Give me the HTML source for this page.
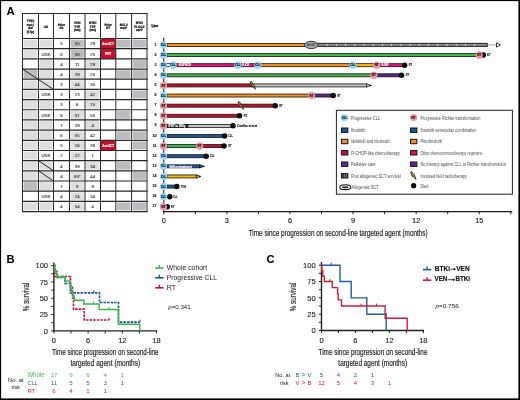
<!DOCTYPE html>
<html><head><meta charset="utf-8"><style>
html,body{margin:0;padding:0;background:#fff;}
svg{display:block;will-change:transform;}
text{font-family:"Liberation Sans", sans-serif;}
.gp{text-rendering:geometricPrecision;}
</style></head><body>
<svg width="520" height="400" viewBox="0 0 520 400" font-family='"Liberation Sans", sans-serif'>
<rect width="520" height="400" fill="#fff"/>
<rect x="0" y="0" width="520" height="1.1" fill="#000"/>
<rect x="0" y="0" width="1.1" height="400" fill="#000"/>
<rect x="518.4" y="0" width="1.6" height="400" fill="#000"/>
<rect x="0" y="398.4" width="520" height="1.6" fill="#000"/>
<text x="6.50" y="15.10" font-size="11.4" fill="#000" font-weight="bold">A</text>
<text x="6.60" y="262.60" font-size="11.2" fill="#000" font-weight="bold">B</text>
<text x="266.50" y="262.60" font-size="11.2" fill="#000" font-weight="bold">C</text>
<rect x="23.70" y="39.70" width="13.60" height="7.78" fill="#dedede"/>
<rect x="39.70" y="39.70" width="12.60" height="7.78" fill="#dedede"/>
<text x="61.50" y="45.34" font-size="4.3" fill="#333" text-anchor="middle" stroke="#333" stroke-width="0.1">5</text>
<rect x="70.70" y="39.70" width="13.10" height="7.78" fill="#bcbcc0"/>
<text x="77.25" y="45.34" font-size="4.3" fill="#333" text-anchor="middle" stroke="#333" stroke-width="0.1">55</text>
<text x="92.75" y="45.34" font-size="4.3" fill="#333" text-anchor="middle" stroke="#333" stroke-width="0.1">29</text>
<rect x="100.50" y="38.50" width="15.30" height="10.18" fill="#c8102e"/>
<text x="108.15" y="44.89" font-size="3.5" fill="#fff" text-anchor="middle" font-weight="bold" textLength="11.6" lengthAdjust="spacingAndGlyphs" stroke="#fff" stroke-width="0.15">AutoSCT</text>
<rect x="117.00" y="39.70" width="13.40" height="7.78" fill="#bcbcc0"/>
<rect x="132.80" y="39.70" width="13.00" height="7.78" fill="#bcbcc0"/>
<rect x="23.70" y="49.88" width="13.60" height="7.78" fill="#dedede"/>
<text x="46.00" y="55.52" font-size="4.3" fill="#333" text-anchor="middle" stroke="#333" stroke-width="0.1">UNK</text>
<text x="61.50" y="55.52" font-size="4.3" fill="#333" text-anchor="middle" stroke="#333" stroke-width="0.1">8</text>
<rect x="70.70" y="49.88" width="13.10" height="7.78" fill="#bcbcc0"/>
<text x="77.25" y="55.52" font-size="4.3" fill="#333" text-anchor="middle" stroke="#333" stroke-width="0.1">58</text>
<text x="92.75" y="55.52" font-size="4.3" fill="#333" text-anchor="middle" stroke="#333" stroke-width="0.1">25</text>
<rect x="100.50" y="48.68" width="15.30" height="10.18" fill="#c8102e"/>
<text x="108.15" y="55.07" font-size="3.5" fill="#fff" text-anchor="middle" font-weight="bold" textLength="6.3" lengthAdjust="spacingAndGlyphs" stroke="#fff" stroke-width="0.15">IFRT</text>
<rect x="39.70" y="60.06" width="12.60" height="7.78" fill="#dedede"/>
<text x="61.50" y="65.70" font-size="4.3" fill="#333" text-anchor="middle" stroke="#333" stroke-width="0.1">4</text>
<text x="77.25" y="65.70" font-size="4.3" fill="#333" text-anchor="middle" stroke="#333" stroke-width="0.1">11</text>
<rect x="86.20" y="60.06" width="13.10" height="7.78" fill="#dedede"/>
<text x="92.75" y="65.70" font-size="4.3" fill="#333" text-anchor="middle" stroke="#333" stroke-width="0.1">29</text>
<rect x="132.80" y="60.06" width="13.00" height="7.78" fill="#bcbcc0"/>
<rect x="23.70" y="70.24" width="13.60" height="7.78" fill="#bcbcc0"/>
<rect x="39.70" y="70.24" width="12.60" height="7.78" fill="#dedede"/>
<text x="61.50" y="75.88" font-size="4.3" fill="#333" text-anchor="middle" stroke="#333" stroke-width="0.1">4</text>
<rect x="70.70" y="70.24" width="13.10" height="7.78" fill="#dedede"/>
<text x="77.25" y="75.88" font-size="4.3" fill="#333" text-anchor="middle" stroke="#333" stroke-width="0.1">29</text>
<text x="92.75" y="75.88" font-size="4.3" fill="#333" text-anchor="middle" stroke="#333" stroke-width="0.1">25</text>
<rect x="117.00" y="70.24" width="13.40" height="7.78" fill="#bcbcc0"/>
<rect x="132.80" y="70.24" width="13.00" height="7.78" fill="#bcbcc0"/>
<rect x="23.70" y="80.42" width="13.60" height="7.78" fill="#dedede"/>
<rect x="39.70" y="80.42" width="12.60" height="7.78" fill="#dedede"/>
<text x="61.50" y="86.06" font-size="4.3" fill="#333" text-anchor="middle" stroke="#333" stroke-width="0.1">3</text>
<rect x="70.70" y="80.42" width="13.10" height="7.78" fill="#dedede"/>
<text x="77.25" y="86.06" font-size="4.3" fill="#333" text-anchor="middle" stroke="#333" stroke-width="0.1">44</text>
<text x="92.75" y="86.06" font-size="4.3" fill="#333" text-anchor="middle" stroke="#333" stroke-width="0.1">35</text>
<rect x="23.70" y="90.60" width="13.60" height="7.78" fill="#dedede"/>
<text x="46.00" y="96.24" font-size="4.3" fill="#333" text-anchor="middle" stroke="#333" stroke-width="0.1">UNK</text>
<text x="61.50" y="96.24" font-size="4.3" fill="#333" text-anchor="middle" stroke="#333" stroke-width="0.1">3</text>
<text x="77.25" y="96.24" font-size="4.3" fill="#333" text-anchor="middle" stroke="#333" stroke-width="0.1">23</text>
<rect x="86.20" y="90.60" width="13.10" height="7.78" fill="#dedede"/>
<text x="92.75" y="96.24" font-size="4.3" fill="#333" text-anchor="middle" stroke="#333" stroke-width="0.1">42</text>
<rect x="132.80" y="90.60" width="13.00" height="7.78" fill="#bcbcc0"/>
<rect x="23.70" y="100.78" width="13.60" height="7.78" fill="#dedede"/>
<rect x="39.70" y="100.78" width="12.60" height="7.78" fill="#dedede"/>
<text x="61.50" y="106.42" font-size="4.3" fill="#333" text-anchor="middle" stroke="#333" stroke-width="0.1">3</text>
<text x="77.25" y="106.42" font-size="4.3" fill="#333" text-anchor="middle" stroke="#333" stroke-width="0.1">6</text>
<rect x="86.20" y="100.78" width="13.10" height="7.78" fill="#dedede"/>
<text x="92.75" y="106.42" font-size="4.3" fill="#333" text-anchor="middle" stroke="#333" stroke-width="0.1">15</text>
<rect x="23.70" y="110.96" width="13.60" height="7.78" fill="#dedede"/>
<text x="46.00" y="116.60" font-size="4.3" fill="#333" text-anchor="middle" stroke="#333" stroke-width="0.1">UNK</text>
<text x="61.50" y="116.60" font-size="4.3" fill="#333" text-anchor="middle" stroke="#333" stroke-width="0.1">6</text>
<rect x="70.70" y="110.96" width="13.10" height="7.78" fill="#dedede"/>
<text x="77.25" y="116.60" font-size="4.3" fill="#333" text-anchor="middle" stroke="#333" stroke-width="0.1">31</text>
<text x="92.75" y="116.60" font-size="4.3" fill="#333" text-anchor="middle" stroke="#333" stroke-width="0.1">55</text>
<rect x="117.00" y="110.96" width="13.40" height="7.78" fill="#bcbcc0"/>
<rect x="23.70" y="121.14" width="13.60" height="7.78" fill="#dedede"/>
<rect x="39.70" y="121.14" width="12.60" height="7.78" fill="#dedede"/>
<text x="61.50" y="126.78" font-size="4.3" fill="#333" text-anchor="middle" stroke="#333" stroke-width="0.1">7</text>
<text x="77.25" y="126.78" font-size="4.3" fill="#333" text-anchor="middle" stroke="#333" stroke-width="0.1">29</text>
<rect x="86.20" y="121.14" width="13.10" height="7.78" fill="#dedede"/>
<text x="92.75" y="126.78" font-size="4.3" fill="#333" text-anchor="middle" stroke="#333" stroke-width="0.1">4</text>
<rect x="23.70" y="131.32" width="13.60" height="7.78" fill="#dedede"/>
<rect x="39.70" y="131.32" width="12.60" height="7.78" fill="#dedede"/>
<text x="61.50" y="136.96" font-size="4.3" fill="#333" text-anchor="middle" stroke="#333" stroke-width="0.1">6</text>
<rect x="70.70" y="131.32" width="13.10" height="7.78" fill="#dedede"/>
<text x="77.25" y="136.96" font-size="4.3" fill="#333" text-anchor="middle" stroke="#333" stroke-width="0.1">55</text>
<text x="92.75" y="136.96" font-size="4.3" fill="#333" text-anchor="middle" stroke="#333" stroke-width="0.1">42</text>
<rect x="117.00" y="131.32" width="13.40" height="7.78" fill="#bcbcc0"/>
<rect x="132.80" y="131.32" width="13.00" height="7.78" fill="#bcbcc0"/>
<rect x="23.70" y="141.50" width="13.60" height="7.78" fill="#dedede"/>
<rect x="39.70" y="141.50" width="12.60" height="7.78" fill="#dedede"/>
<text x="61.50" y="147.14" font-size="4.3" fill="#333" text-anchor="middle" stroke="#333" stroke-width="0.1">5</text>
<rect x="70.70" y="141.50" width="13.10" height="7.78" fill="#dedede"/>
<text x="77.25" y="147.14" font-size="4.3" fill="#333" text-anchor="middle" stroke="#333" stroke-width="0.1">16</text>
<text x="92.75" y="147.14" font-size="4.3" fill="#333" text-anchor="middle" stroke="#333" stroke-width="0.1">39</text>
<rect x="100.50" y="140.30" width="15.30" height="10.18" fill="#c8102e"/>
<text x="108.15" y="146.69" font-size="3.5" fill="#fff" text-anchor="middle" font-weight="bold" textLength="11.6" lengthAdjust="spacingAndGlyphs" stroke="#fff" stroke-width="0.15">AutoSCT</text>
<rect x="132.80" y="141.50" width="13.00" height="7.78" fill="#bcbcc0"/>
<rect x="23.70" y="151.68" width="13.60" height="7.78" fill="#dedede"/>
<text x="46.00" y="157.32" font-size="4.3" fill="#333" text-anchor="middle" stroke="#333" stroke-width="0.1">UNK</text>
<text x="61.50" y="157.32" font-size="4.3" fill="#333" text-anchor="middle" stroke="#333" stroke-width="0.1">2</text>
<rect x="70.70" y="151.68" width="13.10" height="7.78" fill="#dedede"/>
<text x="77.25" y="157.32" font-size="4.3" fill="#333" text-anchor="middle" stroke="#333" stroke-width="0.1">22</text>
<text x="92.75" y="157.32" font-size="4.3" fill="#333" text-anchor="middle" stroke="#333" stroke-width="0.1">1</text>
<rect x="23.70" y="161.86" width="13.60" height="7.78" fill="#dedede"/>
<rect x="39.70" y="161.86" width="12.60" height="7.78" fill="#dedede"/>
<text x="61.50" y="167.50" font-size="4.3" fill="#333" text-anchor="middle" stroke="#333" stroke-width="0.1">4</text>
<text x="77.25" y="167.50" font-size="4.3" fill="#333" text-anchor="middle" stroke="#333" stroke-width="0.1">39</text>
<rect x="86.20" y="161.86" width="13.10" height="7.78" fill="#dedede"/>
<text x="92.75" y="167.50" font-size="4.3" fill="#333" text-anchor="middle" stroke="#333" stroke-width="0.1">34</text>
<rect x="117.00" y="161.86" width="13.40" height="7.78" fill="#bcbcc0"/>
<rect x="23.70" y="172.04" width="13.60" height="7.78" fill="#dedede"/>
<rect x="39.70" y="172.04" width="12.60" height="7.78" fill="#dedede"/>
<text x="61.50" y="177.68" font-size="4.3" fill="#333" text-anchor="middle" stroke="#333" stroke-width="0.1">4</text>
<rect x="70.70" y="172.04" width="13.10" height="7.78" fill="#dedede"/>
<text x="77.25" y="177.68" font-size="4.3" fill="#333" text-anchor="middle" stroke="#333" stroke-width="0.1">65*</text>
<text x="92.75" y="177.68" font-size="4.3" fill="#333" text-anchor="middle" stroke="#333" stroke-width="0.1">44</text>
<rect x="132.80" y="172.04" width="13.00" height="7.78" fill="#bcbcc0"/>
<rect x="23.70" y="182.22" width="13.60" height="7.78" fill="#bcbcc0"/>
<rect x="39.70" y="182.22" width="12.60" height="7.78" fill="#dedede"/>
<text x="61.50" y="187.86" font-size="4.3" fill="#333" text-anchor="middle" stroke="#333" stroke-width="0.1">7</text>
<rect x="70.70" y="182.22" width="13.10" height="7.78" fill="#dedede"/>
<text x="77.25" y="187.86" font-size="4.3" fill="#333" text-anchor="middle" stroke="#333" stroke-width="0.1">9</text>
<text x="92.75" y="187.86" font-size="4.3" fill="#333" text-anchor="middle" stroke="#333" stroke-width="0.1">9</text>
<text x="46.00" y="198.04" font-size="4.3" fill="#333" text-anchor="middle" stroke="#333" stroke-width="0.1">UNK</text>
<text x="61.50" y="198.04" font-size="4.3" fill="#333" text-anchor="middle" stroke="#333" stroke-width="0.1">4</text>
<rect x="70.70" y="192.40" width="13.10" height="7.78" fill="#dedede"/>
<text x="77.25" y="198.04" font-size="4.3" fill="#333" text-anchor="middle" stroke="#333" stroke-width="0.1">24</text>
<text x="92.75" y="198.04" font-size="4.3" fill="#333" text-anchor="middle" stroke="#333" stroke-width="0.1">34</text>
<rect x="23.70" y="202.58" width="13.60" height="7.78" fill="#dedede"/>
<rect x="39.70" y="202.58" width="12.60" height="7.78" fill="#dedede"/>
<text x="61.50" y="208.22" font-size="4.3" fill="#333" text-anchor="middle" stroke="#333" stroke-width="0.1">4</text>
<rect x="70.70" y="202.58" width="13.10" height="7.78" fill="#dedede"/>
<text x="77.25" y="208.22" font-size="4.3" fill="#333" text-anchor="middle" stroke="#333" stroke-width="0.1">54</text>
<text x="92.75" y="208.22" font-size="4.3" fill="#333" text-anchor="middle" stroke="#333" stroke-width="0.1">4</text>
<rect x="117.00" y="202.58" width="13.40" height="7.78" fill="#bcbcc0"/>
<rect x="132.80" y="202.58" width="13.00" height="7.78" fill="#bcbcc0"/>
<line x1="22.50" y1="13.00" x2="22.50" y2="212.06" stroke="#262626" stroke-width="1"/>
<line x1="38.50" y1="13.00" x2="38.50" y2="212.06" stroke="#262626" stroke-width="1"/>
<line x1="53.50" y1="13.00" x2="53.50" y2="212.06" stroke="#262626" stroke-width="1"/>
<line x1="69.50" y1="13.00" x2="69.50" y2="212.06" stroke="#262626" stroke-width="1"/>
<line x1="85.00" y1="13.00" x2="85.00" y2="212.06" stroke="#262626" stroke-width="1"/>
<line x1="100.50" y1="13.00" x2="100.50" y2="212.06" stroke="#262626" stroke-width="1"/>
<line x1="115.80" y1="13.00" x2="115.80" y2="212.06" stroke="#262626" stroke-width="1"/>
<line x1="131.60" y1="13.00" x2="131.60" y2="212.06" stroke="#262626" stroke-width="1"/>
<line x1="147.00" y1="13.00" x2="147.00" y2="212.06" stroke="#262626" stroke-width="1"/>
<line x1="22.00" y1="13.50" x2="147.50" y2="13.50" stroke="#262626" stroke-width="1"/>
<line x1="22.00" y1="38.50" x2="147.50" y2="38.50" stroke="#262626" stroke-width="1.2"/>
<line x1="22.00" y1="48.68" x2="147.50" y2="48.68" stroke="#262626" stroke-width="1.2"/>
<line x1="22.00" y1="58.86" x2="147.50" y2="58.86" stroke="#262626" stroke-width="1.2"/>
<line x1="22.00" y1="69.04" x2="147.50" y2="69.04" stroke="#262626" stroke-width="1.2"/>
<line x1="22.00" y1="79.22" x2="147.50" y2="79.22" stroke="#262626" stroke-width="1.2"/>
<line x1="22.00" y1="89.40" x2="147.50" y2="89.40" stroke="#262626" stroke-width="1.2"/>
<line x1="22.00" y1="99.58" x2="147.50" y2="99.58" stroke="#262626" stroke-width="1.2"/>
<line x1="22.00" y1="109.76" x2="147.50" y2="109.76" stroke="#262626" stroke-width="1.2"/>
<line x1="22.00" y1="119.94" x2="147.50" y2="119.94" stroke="#262626" stroke-width="1.2"/>
<line x1="22.00" y1="130.12" x2="147.50" y2="130.12" stroke="#262626" stroke-width="1.2"/>
<line x1="22.00" y1="140.30" x2="147.50" y2="140.30" stroke="#262626" stroke-width="1.2"/>
<line x1="22.00" y1="150.48" x2="147.50" y2="150.48" stroke="#262626" stroke-width="1.2"/>
<line x1="22.00" y1="160.66" x2="147.50" y2="160.66" stroke="#262626" stroke-width="1.2"/>
<line x1="22.00" y1="170.84" x2="147.50" y2="170.84" stroke="#262626" stroke-width="1.2"/>
<line x1="22.00" y1="181.02" x2="147.50" y2="181.02" stroke="#262626" stroke-width="1.2"/>
<line x1="22.00" y1="191.20" x2="147.50" y2="191.20" stroke="#262626" stroke-width="1.2"/>
<line x1="22.00" y1="201.38" x2="147.50" y2="201.38" stroke="#262626" stroke-width="1.2"/>
<line x1="22.00" y1="211.56" x2="147.50" y2="211.56" stroke="#262626" stroke-width="1.2"/>
<line x1="22.50" y1="69.04" x2="53.50" y2="89.40" stroke="#111" stroke-width="0.9"/>
<line x1="38.50" y1="160.66" x2="53.50" y2="170.84" stroke="#111" stroke-width="0.9"/>
<line x1="38.50" y1="170.84" x2="53.50" y2="181.02" stroke="#111" stroke-width="0.9"/>
<text x="30.50" y="22.25" font-size="3.4" fill="#000" text-anchor="middle" font-weight="bold" textLength="7.31" lengthAdjust="spacingAndGlyphs" class="gp" stroke="#000" stroke-width="0.2">TP53</text>
<text x="30.50" y="25.75" font-size="3.4" fill="#000" text-anchor="middle" font-weight="bold" textLength="7.31" lengthAdjust="spacingAndGlyphs" class="gp" stroke="#000" stroke-width="0.2">mut /</text>
<text x="30.50" y="29.25" font-size="3.4" fill="#000" text-anchor="middle" font-weight="bold" textLength="4.42" lengthAdjust="spacingAndGlyphs" class="gp" stroke="#000" stroke-width="0.2">del</text>
<text x="30.50" y="32.75" font-size="3.4" fill="#000" text-anchor="middle" font-weight="bold" textLength="7.31" lengthAdjust="spacingAndGlyphs" class="gp" stroke="#000" stroke-width="0.2">(17p)</text>
<text x="46.00" y="27.50" font-size="3.4" fill="#000" text-anchor="middle" font-weight="bold" textLength="4.42" lengthAdjust="spacingAndGlyphs" class="gp" stroke="#000" stroke-width="0.2">CK</text>
<text x="61.50" y="25.75" font-size="3.4" fill="#000" text-anchor="middle" font-weight="bold" textLength="7.14" lengthAdjust="spacingAndGlyphs" class="gp" stroke="#000" stroke-width="0.2">Prior</text>
<text x="61.50" y="29.25" font-size="3.4" fill="#000" text-anchor="middle" font-weight="bold" textLength="3.91" lengthAdjust="spacingAndGlyphs" class="gp" stroke="#000" stroke-width="0.2">Rx</text>
<text x="77.25" y="24.00" font-size="3.4" fill="#000" text-anchor="middle" font-weight="bold" textLength="6.29" lengthAdjust="spacingAndGlyphs" class="gp" stroke="#000" stroke-width="0.2">VEN</text>
<text x="77.25" y="27.50" font-size="3.4" fill="#000" text-anchor="middle" font-weight="bold" textLength="5.78" lengthAdjust="spacingAndGlyphs" class="gp" stroke="#000" stroke-width="0.2">TTP</text>
<text x="77.25" y="31.00" font-size="3.4" fill="#000" text-anchor="middle" font-weight="bold" textLength="6.63" lengthAdjust="spacingAndGlyphs" class="gp" stroke="#000" stroke-width="0.2">(mo)</text>
<text x="92.75" y="24.00" font-size="3.4" fill="#000" text-anchor="middle" font-weight="bold" textLength="7.14" lengthAdjust="spacingAndGlyphs" class="gp" stroke="#000" stroke-width="0.2">BTKi</text>
<text x="92.75" y="27.50" font-size="3.4" fill="#000" text-anchor="middle" font-weight="bold" textLength="5.78" lengthAdjust="spacingAndGlyphs" class="gp" stroke="#000" stroke-width="0.2">TTP</text>
<text x="92.75" y="31.00" font-size="3.4" fill="#000" text-anchor="middle" font-weight="bold" textLength="6.63" lengthAdjust="spacingAndGlyphs" class="gp" stroke="#000" stroke-width="0.2">(mo)</text>
<text x="108.15" y="25.75" font-size="3.4" fill="#000" text-anchor="middle" font-weight="bold" textLength="7.14" lengthAdjust="spacingAndGlyphs" class="gp" stroke="#000" stroke-width="0.2">Prior</text>
<text x="108.15" y="29.25" font-size="3.4" fill="#000" text-anchor="middle" font-weight="bold" textLength="4.08" lengthAdjust="spacingAndGlyphs" class="gp" stroke="#000" stroke-width="0.2">RT</text>
<text x="123.70" y="25.75" font-size="3.4" fill="#000" text-anchor="middle" font-weight="bold" textLength="7.99" lengthAdjust="spacingAndGlyphs" class="gp" stroke="#000" stroke-width="0.2">BCL2</text>
<text x="123.70" y="29.25" font-size="3.4" fill="#000" text-anchor="middle" font-weight="bold" textLength="6.8" lengthAdjust="spacingAndGlyphs" class="gp" stroke="#000" stroke-width="0.2">mut*</text>
<text x="139.30" y="24.00" font-size="3.4" fill="#000" text-anchor="middle" font-weight="bold" textLength="7.14" lengthAdjust="spacingAndGlyphs" class="gp" stroke="#000" stroke-width="0.2">BTK/</text>
<text x="139.30" y="27.50" font-size="3.4" fill="#000" text-anchor="middle" font-weight="bold" textLength="10.2" lengthAdjust="spacingAndGlyphs" class="gp" stroke="#000" stroke-width="0.2">PLCG2</text>
<text x="139.30" y="31.00" font-size="3.4" fill="#000" text-anchor="middle" font-weight="bold" textLength="6.8" lengthAdjust="spacingAndGlyphs" class="gp" stroke="#000" stroke-width="0.2">mut*</text>
<text x="154.80" y="26.90" font-size="3.3" fill="#000" text-anchor="middle" font-weight="bold" stroke="#000" stroke-width="0.25">Line</text>
<line x1="163.7" y1="38" x2="163.7" y2="211.5" stroke="#333" stroke-width="1.2"/>
<line x1="163.0" y1="211.6" x2="512.3" y2="211.6" stroke="#1a1a1a" stroke-width="1.4"/>
<line x1="163.80" y1="211.5" x2="163.80" y2="214.2" stroke="#222" stroke-width="1"/>
<line x1="195.35" y1="211.5" x2="195.35" y2="214.2" stroke="#222" stroke-width="1"/>
<line x1="226.89" y1="211.5" x2="226.89" y2="214.2" stroke="#222" stroke-width="1"/>
<line x1="258.44" y1="211.5" x2="258.44" y2="214.2" stroke="#222" stroke-width="1"/>
<line x1="289.98" y1="211.5" x2="289.98" y2="214.2" stroke="#222" stroke-width="1"/>
<line x1="321.53" y1="211.5" x2="321.53" y2="214.2" stroke="#222" stroke-width="1"/>
<line x1="353.07" y1="211.5" x2="353.07" y2="214.2" stroke="#222" stroke-width="1"/>
<line x1="384.62" y1="211.5" x2="384.62" y2="214.2" stroke="#222" stroke-width="1"/>
<line x1="416.16" y1="211.5" x2="416.16" y2="214.2" stroke="#222" stroke-width="1"/>
<line x1="447.71" y1="211.5" x2="447.71" y2="214.2" stroke="#222" stroke-width="1"/>
<line x1="479.25" y1="211.5" x2="479.25" y2="214.2" stroke="#222" stroke-width="1"/>
<line x1="510.80" y1="211.5" x2="510.80" y2="214.2" stroke="#222" stroke-width="1"/>
<text x="163.80" y="223.40" font-size="7.3" fill="#111" text-anchor="middle" stroke="#111" stroke-width="0.12">0</text>
<text x="226.89" y="223.40" font-size="7.3" fill="#111" text-anchor="middle" stroke="#111" stroke-width="0.12">3</text>
<text x="289.98" y="223.40" font-size="7.3" fill="#111" text-anchor="middle" stroke="#111" stroke-width="0.12">6</text>
<text x="353.07" y="223.40" font-size="7.3" fill="#111" text-anchor="middle" stroke="#111" stroke-width="0.12">9</text>
<text x="416.16" y="223.40" font-size="7.3" fill="#111" text-anchor="middle" stroke="#111" stroke-width="0.12">12</text>
<text x="479.25" y="223.40" font-size="7.3" fill="#111" text-anchor="middle" stroke="#111" stroke-width="0.12">15</text>
<text x="248.70" y="235.70" font-size="9" fill="#222" textLength="179" lengthAdjust="spacingAndGlyphs" stroke="#222" stroke-width="0.18">Time since progression on second-line targeted agent (months)</text>
<text x="156.60" y="45.55" font-size="3.7" fill="#111" text-anchor="end" font-weight="bold" stroke="#111" stroke-width="0.12">1</text>
<text x="156.60" y="55.67" font-size="3.7" fill="#111" text-anchor="end" font-weight="bold" stroke="#111" stroke-width="0.12">2</text>
<text x="156.60" y="65.78" font-size="3.7" fill="#111" text-anchor="end" font-weight="bold" stroke="#111" stroke-width="0.12">3</text>
<text x="156.60" y="75.89" font-size="3.7" fill="#111" text-anchor="end" font-weight="bold" stroke="#111" stroke-width="0.12">4</text>
<text x="156.60" y="86.01" font-size="3.7" fill="#111" text-anchor="end" font-weight="bold" stroke="#111" stroke-width="0.12">5</text>
<text x="156.60" y="96.12" font-size="3.7" fill="#111" text-anchor="end" font-weight="bold" stroke="#111" stroke-width="0.12">6</text>
<text x="156.60" y="106.24" font-size="3.7" fill="#111" text-anchor="end" font-weight="bold" stroke="#111" stroke-width="0.12">7</text>
<text x="156.60" y="116.36" font-size="3.7" fill="#111" text-anchor="end" font-weight="bold" stroke="#111" stroke-width="0.12">8</text>
<text x="156.60" y="126.47" font-size="3.7" fill="#111" text-anchor="end" font-weight="bold" stroke="#111" stroke-width="0.12">9</text>
<text x="156.60" y="136.59" font-size="3.7" fill="#111" text-anchor="end" font-weight="bold" stroke="#111" stroke-width="0.12">10</text>
<text x="156.60" y="146.70" font-size="3.7" fill="#111" text-anchor="end" font-weight="bold" stroke="#111" stroke-width="0.12">11</text>
<text x="156.60" y="156.81" font-size="3.7" fill="#111" text-anchor="end" font-weight="bold" stroke="#111" stroke-width="0.12">12</text>
<text x="156.60" y="166.93" font-size="3.7" fill="#111" text-anchor="end" font-weight="bold" stroke="#111" stroke-width="0.12">13</text>
<text x="156.60" y="177.04" font-size="3.7" fill="#111" text-anchor="end" font-weight="bold" stroke="#111" stroke-width="0.12">14</text>
<text x="156.60" y="187.16" font-size="3.7" fill="#111" text-anchor="end" font-weight="bold" stroke="#111" stroke-width="0.12">15</text>
<text x="156.60" y="197.28" font-size="3.7" fill="#111" text-anchor="end" font-weight="bold" stroke="#111" stroke-width="0.12">16</text>
<text x="156.60" y="207.39" font-size="3.7" fill="#111" text-anchor="end" font-weight="bold" stroke="#111" stroke-width="0.12">17</text>
<rect x="167.00" y="43.45" width="138.00" height="3.00" fill="#f7931e" stroke="#111" stroke-width="0.8"/>
<rect x="317" y="43.25" width="170.3" height="3.4" fill="#646464" stroke="#111" stroke-width="0.8"/>
<rect x="317.5" y="44.45" width="169.5" height="1.0" fill="#a2a2a2"/>
<rect x="326.65" y="43.95" width="0.9" height="2.0" fill="#e6e6e6"/>
<rect x="335.87" y="43.95" width="0.9" height="2.0" fill="#e6e6e6"/>
<rect x="345.09" y="43.95" width="0.9" height="2.0" fill="#e6e6e6"/>
<rect x="354.31" y="43.95" width="0.9" height="2.0" fill="#e6e6e6"/>
<rect x="363.53" y="43.95" width="0.9" height="2.0" fill="#e6e6e6"/>
<rect x="372.75" y="43.95" width="0.9" height="2.0" fill="#e6e6e6"/>
<rect x="381.97" y="43.95" width="0.9" height="2.0" fill="#e6e6e6"/>
<rect x="391.19" y="43.95" width="0.9" height="2.0" fill="#e6e6e6"/>
<rect x="400.41" y="43.95" width="0.9" height="2.0" fill="#e6e6e6"/>
<rect x="409.63" y="43.95" width="0.9" height="2.0" fill="#e6e6e6"/>
<rect x="418.85" y="43.95" width="0.9" height="2.0" fill="#e6e6e6"/>
<rect x="428.07" y="43.95" width="0.9" height="2.0" fill="#e6e6e6"/>
<rect x="437.29" y="43.95" width="0.9" height="2.0" fill="#e6e6e6"/>
<rect x="446.51" y="43.95" width="0.9" height="2.0" fill="#e6e6e6"/>
<rect x="455.73" y="43.95" width="0.9" height="2.0" fill="#e6e6e6"/>
<rect x="464.95" y="43.95" width="0.9" height="2.0" fill="#e6e6e6"/>
<rect x="474.17" y="43.95" width="0.9" height="2.0" fill="#e6e6e6"/>
<line x1="487.3" y1="44.95" x2="497" y2="44.95" stroke="#444" stroke-width="0.8" stroke-dasharray="1.2,0.8"/>
<path d="M496.5,42.75 L500.4,44.95 L496.5,47.15 Z" fill="#fff" stroke="#111" stroke-width="0.8"/>
<ellipse cx="311.3" cy="44.95" rx="6.5" ry="3.5" fill="#a8a8a8" stroke="#fff" stroke-width="0.9"/>
<ellipse cx="311.3" cy="44.95" rx="6.6" ry="3.6" fill="none" stroke="#111" stroke-width="0.9"/>
<text x="311.30" y="45.85" font-size="2.6" fill="#222" text-anchor="middle" font-weight="bold" textLength="8.5" lengthAdjust="spacingAndGlyphs">AlloSCT</text>
<circle cx="163.50" cy="44.95" r="3.5" fill="#98d8f6" stroke="#80ccf0" stroke-width="0.4"/>
<text x="163.50" y="46.05" font-size="2.9" fill="#0d1b2a" text-anchor="middle" font-weight="bold" textLength="5.2" lengthAdjust="spacingAndGlyphs" stroke="#0d1b2a" stroke-width="0.22">CLL</text>
<rect x="167.00" y="53.57" width="311.00" height="3.00" fill="#3dbb4a" stroke="#111" stroke-width="0.8"/>
<circle cx="483.30" cy="55.07" r="2.75" fill="#0a0a0a"/>
<circle cx="479.20" cy="55.07" r="3.5" fill="#f295a4" stroke="#e8788a" stroke-width="0.4"/>
<text x="479.20" y="56.22" font-size="2.9" fill="#1a1a1a" text-anchor="middle" font-weight="bold" textLength="4.0" lengthAdjust="spacingAndGlyphs" stroke="#1a1a1a" stroke-width="0.22">RT</text>
<text x="487.10" y="56.12" font-size="3.0" fill="#000" font-weight="bold" textLength="3.3" lengthAdjust="spacingAndGlyphs" stroke="#000" stroke-width="0.08">RT</text>
<circle cx="163.50" cy="55.07" r="3.5" fill="#98d8f6" stroke="#80ccf0" stroke-width="0.4"/>
<text x="163.50" y="56.17" font-size="2.9" fill="#0d1b2a" text-anchor="middle" font-weight="bold" textLength="5.2" lengthAdjust="spacingAndGlyphs" stroke="#0d1b2a" stroke-width="0.22">CLL</text>
<rect x="166.50" y="63.68" width="4.50" height="3.00" fill="#ffffff" stroke="#111" stroke-width="0.8"/>
<rect x="176.00" y="63.68" width="60.00" height="3.00" fill="#e2127f" stroke="#111" stroke-width="0.8"/>
<text x="178.80" y="66.48" font-size="2.8" fill="#fff" font-weight="bold" textLength="12" lengthAdjust="spacingAndGlyphs" stroke="#fff" stroke-width="0.15">R-EPOCH</text>
<rect x="240.00" y="63.68" width="16.00" height="3.00" fill="#e2127f" stroke="#111" stroke-width="0.8"/>
<text x="242.20" y="66.48" font-size="2.8" fill="#fff" font-weight="bold" textLength="7" lengthAdjust="spacingAndGlyphs" stroke="#fff" stroke-width="0.15">R-ICE</text>
<rect x="260.00" y="63.68" width="91.00" height="3.00" fill="#f7931e" stroke="#111" stroke-width="0.8"/>
<rect x="355.00" y="63.68" width="20.00" height="3.00" fill="#f7bb12" stroke="#111" stroke-width="0.8"/>
<rect x="379.00" y="63.68" width="25.00" height="3.00" fill="#e2127f" stroke="#111" stroke-width="0.8"/>
<text x="381.50" y="66.48" font-size="2.8" fill="#fff" font-weight="bold" textLength="7" lengthAdjust="spacingAndGlyphs" stroke="#fff" stroke-width="0.15">R-GDP</text>
<circle cx="404.60" cy="65.18" r="2.75" fill="#0a0a0a"/>
<text x="408.70" y="66.23" font-size="3.0" fill="#000" font-weight="bold" textLength="3.3" lengthAdjust="spacingAndGlyphs" stroke="#000" stroke-width="0.08">RT</text>
<circle cx="163.50" cy="65.18" r="3.5" fill="#98d8f6" stroke="#80ccf0" stroke-width="0.4"/>
<text x="163.50" y="66.28" font-size="2.9" fill="#0d1b2a" text-anchor="middle" font-weight="bold" textLength="5.2" lengthAdjust="spacingAndGlyphs" stroke="#0d1b2a" stroke-width="0.22">CLL</text>
<circle cx="173.10" cy="65.18" r="3.5" fill="#98d8f6" stroke="#80ccf0" stroke-width="0.4"/>
<text x="173.10" y="66.28" font-size="2.9" fill="#0d1b2a" text-anchor="middle" font-weight="bold" textLength="5.2" lengthAdjust="spacingAndGlyphs" stroke="#0d1b2a" stroke-width="0.22">CLL</text>
<circle cx="237.90" cy="65.18" r="3.5" fill="#98d8f6" stroke="#80ccf0" stroke-width="0.4"/>
<text x="237.90" y="66.28" font-size="2.9" fill="#0d1b2a" text-anchor="middle" font-weight="bold" textLength="5.2" lengthAdjust="spacingAndGlyphs" stroke="#0d1b2a" stroke-width="0.22">CLL</text>
<circle cx="257.90" cy="65.18" r="3.5" fill="#98d8f6" stroke="#80ccf0" stroke-width="0.4"/>
<text x="257.90" y="66.28" font-size="2.9" fill="#0d1b2a" text-anchor="middle" font-weight="bold" textLength="5.2" lengthAdjust="spacingAndGlyphs" stroke="#0d1b2a" stroke-width="0.22">CLL</text>
<circle cx="352.90" cy="65.18" r="3.5" fill="#98d8f6" stroke="#80ccf0" stroke-width="0.4"/>
<text x="352.90" y="66.28" font-size="2.9" fill="#0d1b2a" text-anchor="middle" font-weight="bold" textLength="5.2" lengthAdjust="spacingAndGlyphs" stroke="#0d1b2a" stroke-width="0.22">CLL</text>
<circle cx="376.70" cy="65.18" r="3.5" fill="#f295a4" stroke="#e8788a" stroke-width="0.4"/>
<text x="376.70" y="66.33" font-size="2.9" fill="#1a1a1a" text-anchor="middle" font-weight="bold" textLength="4.0" lengthAdjust="spacingAndGlyphs" stroke="#1a1a1a" stroke-width="0.22">RT</text>
<rect x="167.00" y="73.80" width="205.00" height="3.00" fill="#3dbb4a" stroke="#111" stroke-width="0.8"/>
<rect x="376.00" y="73.80" width="25.00" height="3.00" fill="#62268a" stroke="#111" stroke-width="0.8"/>
<circle cx="401.50" cy="75.30" r="2.75" fill="#0a0a0a"/>
<text x="405.70" y="76.34" font-size="3.0" fill="#000" font-weight="bold" textLength="3.3" lengthAdjust="spacingAndGlyphs" stroke="#000" stroke-width="0.08">RT</text>
<circle cx="163.50" cy="75.30" r="3.5" fill="#98d8f6" stroke="#80ccf0" stroke-width="0.4"/>
<text x="163.50" y="76.39" font-size="2.9" fill="#0d1b2a" text-anchor="middle" font-weight="bold" textLength="5.2" lengthAdjust="spacingAndGlyphs" stroke="#0d1b2a" stroke-width="0.22">CLL</text>
<circle cx="373.80" cy="75.30" r="3.5" fill="#f295a4" stroke="#e8788a" stroke-width="0.4"/>
<text x="373.80" y="76.45" font-size="2.9" fill="#1a1a1a" text-anchor="middle" font-weight="bold" textLength="4.0" lengthAdjust="spacingAndGlyphs" stroke="#1a1a1a" stroke-width="0.22">RT</text>
<rect x="167.00" y="83.91" width="85.00" height="3.00" fill="#c8102e" stroke="#111" stroke-width="0.8"/>
<rect x="252.00" y="83.91" width="115.00" height="3.00" fill="#c6c6c6" stroke="#111" stroke-width="0.8"/>
<path d="M366.50,83.91 L371.50,85.41 L366.50,86.91 Z" fill="#f4f4f4" stroke="#111" stroke-width="0.8" stroke-linejoin="round"/>
<path d="M369.40,84.78 L371.50,85.41 L369.40,86.04 Z" fill="#111"/>
<path d="M250.10,81.81 L251.60,81.61 L253.10,84.81 L253.90,84.51 L255.40,89.31 L252.40,85.91 L251.60,86.31 Z" fill="#d9a11e" stroke="#111" stroke-width="0.75" stroke-linejoin="round"/>
<circle cx="163.50" cy="85.41" r="3.5" fill="#f295a4" stroke="#e8788a" stroke-width="0.4"/>
<text x="163.50" y="86.56" font-size="2.9" fill="#1a1a1a" text-anchor="middle" font-weight="bold" textLength="4.0" lengthAdjust="spacingAndGlyphs" stroke="#1a1a1a" stroke-width="0.22">RT</text>
<rect x="167.00" y="94.03" width="142.00" height="3.00" fill="#f7931e" stroke="#111" stroke-width="0.8"/>
<rect x="313.00" y="94.03" width="20.00" height="3.00" fill="#62268a" stroke="#111" stroke-width="0.8"/>
<circle cx="333.20" cy="95.53" r="2.75" fill="#0a0a0a"/>
<text x="337.30" y="96.58" font-size="3.0" fill="#000" font-weight="bold" textLength="3.3" lengthAdjust="spacingAndGlyphs" stroke="#000" stroke-width="0.08">RT</text>
<circle cx="163.50" cy="95.53" r="3.5" fill="#98d8f6" stroke="#80ccf0" stroke-width="0.4"/>
<text x="163.50" y="96.62" font-size="2.9" fill="#0d1b2a" text-anchor="middle" font-weight="bold" textLength="5.2" lengthAdjust="spacingAndGlyphs" stroke="#0d1b2a" stroke-width="0.22">CLL</text>
<circle cx="311.50" cy="95.53" r="3.5" fill="#f295a4" stroke="#e8788a" stroke-width="0.4"/>
<text x="311.50" y="96.68" font-size="2.9" fill="#1a1a1a" text-anchor="middle" font-weight="bold" textLength="4.0" lengthAdjust="spacingAndGlyphs" stroke="#1a1a1a" stroke-width="0.22">RT</text>
<rect x="167.00" y="104.14" width="108.00" height="3.00" fill="#c8102e" stroke="#111" stroke-width="0.8"/>
<path d="M238.10,102.04 L239.60,101.84 L241.10,105.04 L241.90,104.74 L243.40,109.54 L240.40,106.14 L239.60,106.54 Z" fill="#d9a11e" stroke="#111" stroke-width="0.75" stroke-linejoin="round"/>
<circle cx="275.20" cy="105.64" r="2.75" fill="#0a0a0a"/>
<text x="279.30" y="106.69" font-size="3.0" fill="#000" font-weight="bold" textLength="3.3" lengthAdjust="spacingAndGlyphs" stroke="#000" stroke-width="0.08">RT</text>
<circle cx="163.50" cy="105.64" r="3.5" fill="#f295a4" stroke="#e8788a" stroke-width="0.4"/>
<text x="163.50" y="106.79" font-size="2.9" fill="#1a1a1a" text-anchor="middle" font-weight="bold" textLength="4.0" lengthAdjust="spacingAndGlyphs" stroke="#1a1a1a" stroke-width="0.22">RT</text>
<rect x="167.00" y="114.26" width="72.50" height="3.00" fill="#c8102e" stroke="#111" stroke-width="0.8"/>
<circle cx="239.50" cy="115.76" r="2.75" fill="#0a0a0a"/>
<text x="243.80" y="116.81" font-size="3.0" fill="#000" font-weight="bold" textLength="3.3" lengthAdjust="spacingAndGlyphs" stroke="#000" stroke-width="0.08">RT</text>
<circle cx="163.50" cy="115.76" r="3.5" fill="#f295a4" stroke="#e8788a" stroke-width="0.4"/>
<text x="163.50" y="116.91" font-size="2.9" fill="#1a1a1a" text-anchor="middle" font-weight="bold" textLength="4.0" lengthAdjust="spacingAndGlyphs" stroke="#1a1a1a" stroke-width="0.22">RT</text>
<rect x="167.00" y="124.37" width="66.00" height="3.00" fill="#c6c6c6" stroke="#111" stroke-width="0.8"/>
<rect x="166.6" y="123.97" width="21.6" height="3.8" fill="#1c1c1c"/>
<text x="168.50" y="127.17" font-size="2.8" fill="#fff" font-weight="bold" textLength="17" lengthAdjust="spacingAndGlyphs" stroke="#fff" stroke-width="0.15">IFRT to 30Gy</text>
<circle cx="233.00" cy="125.87" r="2.75" fill="#0a0a0a"/>
<text x="237.10" y="126.92" font-size="3.0" fill="#000" font-weight="bold" textLength="20" lengthAdjust="spacingAndGlyphs" stroke="#000" stroke-width="0.08">Cardiac arrest</text>
<circle cx="163.50" cy="125.87" r="3.5" fill="#f295a4" stroke="#e8788a" stroke-width="0.4"/>
<text x="163.50" y="127.02" font-size="2.9" fill="#1a1a1a" text-anchor="middle" font-weight="bold" textLength="4.0" lengthAdjust="spacingAndGlyphs" stroke="#1a1a1a" stroke-width="0.22">RT</text>
<rect x="167.00" y="134.49" width="57.60" height="3.00" fill="#1c5a98" stroke="#111" stroke-width="0.8"/>
<circle cx="224.60" cy="135.99" r="2.75" fill="#0a0a0a"/>
<text x="228.30" y="137.04" font-size="3.0" fill="#000" font-weight="bold" textLength="4.6" lengthAdjust="spacingAndGlyphs" stroke="#000" stroke-width="0.08">CLL</text>
<circle cx="163.50" cy="135.99" r="3.5" fill="#98d8f6" stroke="#80ccf0" stroke-width="0.4"/>
<text x="163.50" y="137.09" font-size="2.9" fill="#0d1b2a" text-anchor="middle" font-weight="bold" textLength="5.2" lengthAdjust="spacingAndGlyphs" stroke="#0d1b2a" stroke-width="0.22">CLL</text>
<rect x="167.00" y="144.60" width="31.00" height="3.00" fill="#3dbb4a" stroke="#111" stroke-width="0.8"/>
<rect x="201.00" y="144.60" width="23.00" height="3.00" fill="#c8102e" stroke="#111" stroke-width="0.8"/>
<circle cx="224.00" cy="146.10" r="2.75" fill="#0a0a0a"/>
<text x="228.30" y="147.15" font-size="3.0" fill="#000" font-weight="bold" textLength="3.3" lengthAdjust="spacingAndGlyphs" stroke="#000" stroke-width="0.08">RT</text>
<circle cx="163.50" cy="146.10" r="3.5" fill="#f295a4" stroke="#e8788a" stroke-width="0.4"/>
<text x="163.50" y="147.25" font-size="2.9" fill="#1a1a1a" text-anchor="middle" font-weight="bold" textLength="4.0" lengthAdjust="spacingAndGlyphs" stroke="#1a1a1a" stroke-width="0.22">RT</text>
<circle cx="199.60" cy="146.10" r="3.5" fill="#f295a4" stroke="#e8788a" stroke-width="0.4"/>
<text x="199.60" y="147.25" font-size="2.9" fill="#1a1a1a" text-anchor="middle" font-weight="bold" textLength="4.0" lengthAdjust="spacingAndGlyphs" stroke="#1a1a1a" stroke-width="0.22">RT</text>
<rect x="167.00" y="154.72" width="39.20" height="3.00" fill="#1c5a98" stroke="#111" stroke-width="0.8"/>
<circle cx="206.20" cy="156.22" r="2.75" fill="#0a0a0a"/>
<text x="210.10" y="157.27" font-size="3.0" fill="#000" font-weight="bold" textLength="4.6" lengthAdjust="spacingAndGlyphs" stroke="#000" stroke-width="0.08">CLL</text>
<circle cx="163.50" cy="156.22" r="3.5" fill="#98d8f6" stroke="#80ccf0" stroke-width="0.4"/>
<text x="163.50" y="157.31" font-size="2.9" fill="#0d1b2a" text-anchor="middle" font-weight="bold" textLength="5.2" lengthAdjust="spacingAndGlyphs" stroke="#0d1b2a" stroke-width="0.22">CLL</text>
<rect x="167.00" y="164.83" width="33.00" height="3.00" fill="#1c5a98" stroke="#111" stroke-width="0.8"/>
<path d="M199.50,164.83 L204.40,166.33 L199.50,167.83 Z" fill="#1c5a98" stroke="#111" stroke-width="0.8" stroke-linejoin="round"/>
<path d="M202.34,165.70 L204.40,166.33 L202.34,166.96 Z" fill="#111"/>
<text x="169.60" y="167.63" font-size="2.8" fill="#fff" font-weight="bold" textLength="22" lengthAdjust="spacingAndGlyphs" stroke="#fff" stroke-width="0.15">Still on treatment</text>
<circle cx="163.50" cy="166.33" r="3.5" fill="#98d8f6" stroke="#80ccf0" stroke-width="0.4"/>
<text x="163.50" y="167.43" font-size="2.9" fill="#0d1b2a" text-anchor="middle" font-weight="bold" textLength="5.2" lengthAdjust="spacingAndGlyphs" stroke="#0d1b2a" stroke-width="0.22">CLL</text>
<rect x="167.00" y="174.94" width="29.80" height="3.00" fill="#f7bb12" stroke="#111" stroke-width="0.8"/>
<path d="M196.30,174.94 L201.00,176.44 L196.30,177.94 Z" fill="#f7bb12" stroke="#111" stroke-width="0.8" stroke-linejoin="round"/>
<path d="M199.03,175.81 L201.00,176.44 L199.03,177.07 Z" fill="#111"/>
<circle cx="163.50" cy="176.44" r="3.5" fill="#98d8f6" stroke="#80ccf0" stroke-width="0.4"/>
<text x="163.50" y="177.54" font-size="2.9" fill="#0d1b2a" text-anchor="middle" font-weight="bold" textLength="5.2" lengthAdjust="spacingAndGlyphs" stroke="#0d1b2a" stroke-width="0.22">CLL</text>
<rect x="167.00" y="185.06" width="9.80" height="3.00" fill="#1c5a98" stroke="#111" stroke-width="0.8"/>
<circle cx="176.80" cy="186.56" r="2.75" fill="#0a0a0a"/>
<text x="180.90" y="187.61" font-size="3.0" fill="#000" font-weight="bold" textLength="5.4" lengthAdjust="spacingAndGlyphs" stroke="#000" stroke-width="0.08">TGK</text>
<circle cx="163.50" cy="186.56" r="3.5" fill="#98d8f6" stroke="#80ccf0" stroke-width="0.4"/>
<text x="163.50" y="187.66" font-size="2.9" fill="#0d1b2a" text-anchor="middle" font-weight="bold" textLength="5.2" lengthAdjust="spacingAndGlyphs" stroke="#0d1b2a" stroke-width="0.22">CLL</text>
<circle cx="169.80" cy="196.68" r="2.75" fill="#0a0a0a"/>
<text x="173.10" y="197.73" font-size="3.0" fill="#000" font-weight="bold" textLength="4.6" lengthAdjust="spacingAndGlyphs" stroke="#000" stroke-width="0.08">CLL</text>
<circle cx="163.50" cy="196.68" r="3.5" fill="#98d8f6" stroke="#80ccf0" stroke-width="0.4"/>
<text x="163.50" y="197.78" font-size="2.9" fill="#0d1b2a" text-anchor="middle" font-weight="bold" textLength="5.2" lengthAdjust="spacingAndGlyphs" stroke="#0d1b2a" stroke-width="0.22">CLL</text>
<circle cx="167.20" cy="206.79" r="2.75" fill="#0a0a0a"/>
<text x="171.10" y="207.84" font-size="3.0" fill="#000" font-weight="bold" textLength="3.3" lengthAdjust="spacingAndGlyphs" stroke="#000" stroke-width="0.08">RT</text>
<circle cx="163.50" cy="206.79" r="3.5" fill="#f295a4" stroke="#e8788a" stroke-width="0.4"/>
<text x="163.50" y="207.94" font-size="2.9" fill="#1a1a1a" text-anchor="middle" font-weight="bold" textLength="4.0" lengthAdjust="spacingAndGlyphs" stroke="#1a1a1a" stroke-width="0.22">RT</text>
<rect x="336.4" y="110.3" width="176" height="83.9" fill="#fff" stroke="#222" stroke-width="1"/>
<circle cx="344.5" cy="117.6" r="3.6" fill="#98d8f6"/>
<text x="344.50" y="118.50" font-size="2.9" fill="#0d1b2a" text-anchor="middle" font-weight="bold" textLength="5.4" lengthAdjust="spacingAndGlyphs" stroke="#0d1b2a" stroke-width="0.22">CLL</text>
<rect x="341.55" y="128.00" width="6.3" height="4.4" fill="#1c5a98" stroke="#111" stroke-width="1"/>
<rect x="341.55" y="139.30" width="6.3" height="4.4" fill="#f7931e" stroke="#111" stroke-width="1"/>
<rect x="341.55" y="150.60" width="6.3" height="4.4" fill="#c8102e" stroke="#111" stroke-width="1"/>
<rect x="341.55" y="162.00" width="6.3" height="4.4" fill="#62268a" stroke="#111" stroke-width="1"/>
<rect x="341.55" y="173.60" width="6.3" height="4.4" fill="#3a3a3a" stroke="#111" stroke-width="1"/>
<rect x="343.90" y="173.80" width="0.8" height="3.6" fill="#8a8a8a"/>
<rect x="345.90" y="173.80" width="0.8" height="3.6" fill="#8a8a8a"/>
<ellipse cx="345.3" cy="187.2" rx="5.5" ry="2.4" fill="#fff" stroke="#111" stroke-width="1.1"/>
<ellipse cx="345.3" cy="187.2" rx="3.4" ry="1.0" fill="#2a2a2a"/>
<text x="351.00" y="119.50" font-size="4.5" fill="#4a4a4a" textLength="29" lengthAdjust="spacingAndGlyphs">Progressive CLL</text>
<text x="351.00" y="132.00" font-size="4.5" fill="#4a4a4a" textLength="14.5" lengthAdjust="spacingAndGlyphs">Ibrutinib</text>
<text x="351.00" y="143.30" font-size="4.5" fill="#4a4a4a" textLength="38.5" lengthAdjust="spacingAndGlyphs">Idelalisib and rituximab</text>
<text x="351.00" y="154.60" font-size="4.5" fill="#4a4a4a" textLength="49" lengthAdjust="spacingAndGlyphs">R-CHOP-like chemotherapy</text>
<text x="351.00" y="166.00" font-size="4.5" fill="#4a4a4a" textLength="24.5" lengthAdjust="spacingAndGlyphs">Palliative care</text>
<text x="351.00" y="177.60" font-size="4.5" fill="#4a4a4a" textLength="49.5" lengthAdjust="spacingAndGlyphs">Post allogeneic SCT survival</text>
<text x="351.60" y="189.00" font-size="4.5" fill="#4a4a4a" textLength="27" lengthAdjust="spacingAndGlyphs">Allogeneic SCT</text>
<circle cx="413.6" cy="117.5" r="3.6" fill="#f295a4"/>
<text x="413.60" y="118.50" font-size="2.9" fill="#1a1a1a" text-anchor="middle" font-weight="bold" textLength="4.0" lengthAdjust="spacingAndGlyphs" stroke="#1a1a1a" stroke-width="0.22">RT</text>
<rect x="410.55" y="128.00" width="6.3" height="4.4" fill="#1c5a98" stroke="#111" stroke-width="1"/>
<rect x="410.55" y="139.30" width="6.3" height="4.4" fill="#f7931e" stroke="#111" stroke-width="1"/>
<rect x="410.55" y="150.60" width="6.3" height="4.4" fill="#e01a3c" stroke="#111" stroke-width="1"/>
<rect x="410.55" y="162.00" width="6.3" height="4.4" fill="#62268a" stroke="#111" stroke-width="1"/>
<path d="M410.60,172.00 L412.10,171.80 L413.60,175.00 L414.40,174.70 L415.90,179.50 L412.90,176.10 L412.10,176.50 Z" fill="#d9a11e" stroke="#111" stroke-width="0.75" stroke-linejoin="round"/>
<circle cx="413.6" cy="185.7" r="2.6" fill="#0a0a0a"/>
<text x="420.40" y="119.50" font-size="4.5" fill="#4a4a4a" textLength="60" lengthAdjust="spacingAndGlyphs">Progressive Richter transformation</text>
<text x="420.40" y="132.00" font-size="4.5" fill="#4a4a4a" textLength="56" lengthAdjust="spacingAndGlyphs">Ibrutinib-venetoclax combination</text>
<text x="420.40" y="143.30" font-size="4.5" fill="#4a4a4a" textLength="21.5" lengthAdjust="spacingAndGlyphs">Pirtobrutinib</text>
<text x="420.40" y="154.60" font-size="4.5" fill="#4a4a4a" textLength="62" lengthAdjust="spacingAndGlyphs">Other chemoimmunotherapy regimens</text>
<text x="420.40" y="166.00" font-size="4.5" fill="#4a4a4a" textLength="85.5" lengthAdjust="spacingAndGlyphs">No therapy against CLL or Richter transformation</text>
<text x="420.40" y="177.60" font-size="4.5" fill="#4a4a4a" textLength="46.5" lengthAdjust="spacingAndGlyphs">Involved field radiotherapy</text>
<text x="420.40" y="187.60" font-size="4.5" fill="#4a4a4a" textLength="8" lengthAdjust="spacingAndGlyphs">Died</text>
<line x1="53.90" y1="262.40" x2="53.90" y2="331.50" stroke="#222" stroke-width="1.4"/>
<line x1="51.30" y1="265.60" x2="53.90" y2="265.60" stroke="#222" stroke-width="1"/>
<line x1="51.30" y1="273.76" x2="53.90" y2="273.76" stroke="#222" stroke-width="1"/>
<line x1="51.30" y1="281.93" x2="53.90" y2="281.93" stroke="#222" stroke-width="1"/>
<line x1="51.30" y1="290.09" x2="53.90" y2="290.09" stroke="#222" stroke-width="1"/>
<line x1="51.30" y1="298.25" x2="53.90" y2="298.25" stroke="#222" stroke-width="1"/>
<line x1="51.30" y1="306.41" x2="53.90" y2="306.41" stroke="#222" stroke-width="1"/>
<line x1="51.30" y1="314.57" x2="53.90" y2="314.57" stroke="#222" stroke-width="1"/>
<line x1="51.30" y1="322.74" x2="53.90" y2="322.74" stroke="#222" stroke-width="1"/>
<line x1="51.30" y1="330.90" x2="53.90" y2="330.90" stroke="#222" stroke-width="1"/>
<text x="48.00" y="268.30" font-size="7.5" fill="#222" text-anchor="end" stroke="#222" stroke-width="0.12">100</text>
<text x="48.00" y="284.62" font-size="7.5" fill="#222" text-anchor="end" stroke="#222" stroke-width="0.12">75</text>
<text x="48.00" y="300.95" font-size="7.5" fill="#222" text-anchor="end" stroke="#222" stroke-width="0.12">50</text>
<text x="48.00" y="317.27" font-size="7.5" fill="#222" text-anchor="end" stroke="#222" stroke-width="0.12">25</text>
<text x="48.00" y="333.60" font-size="7.5" fill="#222" text-anchor="end" stroke="#222" stroke-width="0.12">0</text>
<line x1="53.20" y1="330.90" x2="157.20" y2="330.90" stroke="#222" stroke-width="1.4"/>
<line x1="53.90" y1="330.90" x2="53.90" y2="333.50" stroke="#222" stroke-width="1"/>
<line x1="71.00" y1="330.90" x2="71.00" y2="333.50" stroke="#222" stroke-width="1"/>
<line x1="88.10" y1="330.90" x2="88.10" y2="333.50" stroke="#222" stroke-width="1"/>
<line x1="105.20" y1="330.90" x2="105.20" y2="333.50" stroke="#222" stroke-width="1"/>
<line x1="122.30" y1="330.90" x2="122.30" y2="333.50" stroke="#222" stroke-width="1"/>
<line x1="139.40" y1="330.90" x2="139.40" y2="333.50" stroke="#222" stroke-width="1"/>
<line x1="156.50" y1="330.90" x2="156.50" y2="333.50" stroke="#222" stroke-width="1"/>
<text x="53.90" y="342.60" font-size="7.5" fill="#222" text-anchor="middle" stroke="#222" stroke-width="0.12">0</text>
<text x="88.10" y="342.60" font-size="7.5" fill="#222" text-anchor="middle" stroke="#222" stroke-width="0.12">6</text>
<text x="122.30" y="342.60" font-size="7.5" fill="#222" text-anchor="middle" stroke="#222" stroke-width="0.12">12</text>
<text x="156.50" y="342.60" font-size="7.5" fill="#222" text-anchor="middle" stroke="#222" stroke-width="0.12">18</text>
<polyline points="53.90,265.60 55.00,265.60 55.00,271.54 57.00,271.54 57.00,277.48 65.00,277.48 65.00,283.43 70.40,283.43 70.40,292.90 99.50,292.90 99.50,302.43 118.50,302.43 118.50,322.08 140.00,322.08 140.00,322.08" fill="none" stroke="#1d4f91" stroke-width="1.6" stroke-dasharray="2.5,1.1"/>
<line x1="93.80" y1="292.90" x2="93.80" y2="290.50" stroke="#1d4f91" stroke-width="1"/>
<line x1="140.00" y1="322.08" x2="140.00" y2="319.68" stroke="#1d4f91" stroke-width="1"/>
<polyline points="53.90,265.60 54.20,265.60 54.20,276.51 70.50,276.51 70.50,287.34 72.50,287.34 72.50,298.25 73.50,298.25 73.50,309.16 84.20,309.16 84.20,319.99 109.20,319.99 109.20,319.99" fill="none" stroke="#c8102e" stroke-width="1.6" stroke-dasharray="2.5,1.1"/>
<line x1="109.20" y1="319.99" x2="109.20" y2="317.59" stroke="#c8102e" stroke-width="1"/>
<polyline points="53.90,265.60 54.60,265.60 54.60,269.45 55.60,269.45 55.60,273.31 56.60,273.31 56.60,277.09 65.00,277.09 65.00,280.95 70.00,280.95 70.00,284.80 70.80,284.80 70.80,288.65 71.60,288.65 71.60,292.50 73.00,292.50 73.00,296.36 74.30,296.36 74.30,300.14 83.80,300.14 83.80,304.00 99.20,304.00 99.20,309.42 118.50,309.42 118.50,324.17 139.80,324.17 139.80,330.90" fill="none" stroke="#3bb54a" stroke-width="1.5"/>
<line x1="63.00" y1="277.09" x2="63.00" y2="274.69" stroke="#3bb54a" stroke-width="1"/>
<line x1="93.50" y1="304.00" x2="93.50" y2="301.60" stroke="#3bb54a" stroke-width="1"/>
<line x1="108.90" y1="309.42" x2="108.90" y2="307.02" stroke="#3bb54a" stroke-width="1"/>
<text x="0" y="0" font-size="8.2" fill="#222" stroke="#222" stroke-width="0.15" transform="translate(29.4,296.9) rotate(-90)" text-anchor="middle" textLength="28.5" lengthAdjust="spacingAndGlyphs">% survival</text>
<line x1="155.20" y1="268.00" x2="163.50" y2="268.00" stroke="#3bb54a" stroke-width="1.6"/>
<line x1="159.35" y1="268.00" x2="159.35" y2="265.00" stroke="#3bb54a" stroke-width="1.4"/>
<line x1="155.20" y1="277.80" x2="163.50" y2="277.80" stroke="#1d4f91" stroke-width="1.6"/>
<line x1="159.35" y1="277.80" x2="159.35" y2="274.80" stroke="#1d4f91" stroke-width="1.4"/>
<line x1="155.20" y1="287.80" x2="163.50" y2="287.80" stroke="#c8102e" stroke-width="1.6"/>
<line x1="159.35" y1="287.80" x2="159.35" y2="284.80" stroke="#c8102e" stroke-width="1.4"/>
<text x="166.80" y="270.40" font-size="7.2" fill="#222" textLength="40.5" lengthAdjust="spacingAndGlyphs">Whole cohort</text>
<text x="166.80" y="280.20" font-size="7.2" fill="#222" textLength="50.2" lengthAdjust="spacingAndGlyphs">Progressive CLL</text>
<text x="166.80" y="290.20" font-size="7.2" fill="#222">RT</text>
<text x="168.2" y="308.7" font-size="6.2" fill="#222" textLength="22.5" lengthAdjust="spacingAndGlyphs"><tspan font-style="italic">p</tspan>=0.341</text>
<text x="105.30" y="354.90" font-size="9" fill="#222" text-anchor="middle" textLength="106.5" lengthAdjust="spacingAndGlyphs" stroke="#222" stroke-width="0.18">Time since progression on second-line</text>
<text x="105.30" y="366.00" font-size="9" fill="#222" text-anchor="middle" textLength="69.8" lengthAdjust="spacingAndGlyphs" stroke="#222" stroke-width="0.18">targeted agent (months)</text>
<text x="15.80" y="381.80" font-size="6.2" fill="#222" text-anchor="middle" textLength="16" lengthAdjust="spacingAndGlyphs">No. at</text>
<text x="15.80" y="389.40" font-size="6.2" fill="#222" text-anchor="middle" textLength="8.6" lengthAdjust="spacingAndGlyphs">risk</text>
<text x="27.40" y="376.60" font-size="6.4" fill="#48b956" textLength="17.2" lengthAdjust="spacingAndGlyphs">Whole</text>
<text x="27.40" y="384.60" font-size="6.2" fill="#3567ab" textLength="10.3" lengthAdjust="spacingAndGlyphs">CLL</text>
<text x="27.40" y="392.60" font-size="6.2" fill="#d02840">RT</text>
<text x="53.90" y="376.60" font-size="6.2" fill="#48b956" text-anchor="middle">17</text>
<text x="71.00" y="376.60" font-size="6.2" fill="#48b956" text-anchor="middle">9</text>
<text x="88.10" y="376.60" font-size="6.2" fill="#48b956" text-anchor="middle">6</text>
<text x="105.20" y="376.60" font-size="6.2" fill="#48b956" text-anchor="middle">4</text>
<text x="122.30" y="376.60" font-size="6.2" fill="#48b956" text-anchor="middle">1</text>
<text x="53.90" y="384.60" font-size="6.2" fill="#3567ab" text-anchor="middle">11</text>
<text x="71.00" y="384.60" font-size="6.2" fill="#3567ab" text-anchor="middle">5</text>
<text x="88.10" y="384.60" font-size="6.2" fill="#3567ab" text-anchor="middle">5</text>
<text x="105.20" y="384.60" font-size="6.2" fill="#3567ab" text-anchor="middle">3</text>
<text x="122.30" y="384.60" font-size="6.2" fill="#3567ab" text-anchor="middle">1</text>
<text x="53.90" y="392.60" font-size="6.2" fill="#d02840" text-anchor="middle">6</text>
<text x="71.00" y="392.60" font-size="6.2" fill="#d02840" text-anchor="middle">4</text>
<text x="88.10" y="392.60" font-size="6.2" fill="#d02840" text-anchor="middle">1</text>
<text x="105.20" y="392.60" font-size="6.2" fill="#d02840" text-anchor="middle">1</text>
<line x1="321.50" y1="262.00" x2="321.50" y2="331.10" stroke="#222" stroke-width="1.4"/>
<line x1="318.90" y1="265.20" x2="321.50" y2="265.20" stroke="#222" stroke-width="1"/>
<line x1="318.90" y1="273.36" x2="321.50" y2="273.36" stroke="#222" stroke-width="1"/>
<line x1="318.90" y1="281.52" x2="321.50" y2="281.52" stroke="#222" stroke-width="1"/>
<line x1="318.90" y1="289.69" x2="321.50" y2="289.69" stroke="#222" stroke-width="1"/>
<line x1="318.90" y1="297.85" x2="321.50" y2="297.85" stroke="#222" stroke-width="1"/>
<line x1="318.90" y1="306.01" x2="321.50" y2="306.01" stroke="#222" stroke-width="1"/>
<line x1="318.90" y1="314.18" x2="321.50" y2="314.18" stroke="#222" stroke-width="1"/>
<line x1="318.90" y1="322.34" x2="321.50" y2="322.34" stroke="#222" stroke-width="1"/>
<line x1="318.90" y1="330.50" x2="321.50" y2="330.50" stroke="#222" stroke-width="1"/>
<text x="315.60" y="267.90" font-size="7.5" fill="#222" text-anchor="end" stroke="#222" stroke-width="0.12">100</text>
<text x="315.60" y="284.22" font-size="7.5" fill="#222" text-anchor="end" stroke="#222" stroke-width="0.12">75</text>
<text x="315.60" y="300.55" font-size="7.5" fill="#222" text-anchor="end" stroke="#222" stroke-width="0.12">50</text>
<text x="315.60" y="316.88" font-size="7.5" fill="#222" text-anchor="end" stroke="#222" stroke-width="0.12">25</text>
<text x="315.60" y="333.20" font-size="7.5" fill="#222" text-anchor="end" stroke="#222" stroke-width="0.12">0</text>
<line x1="320.80" y1="330.50" x2="424.08" y2="330.50" stroke="#222" stroke-width="1.4"/>
<line x1="321.50" y1="330.50" x2="321.50" y2="333.10" stroke="#222" stroke-width="1"/>
<line x1="338.48" y1="330.50" x2="338.48" y2="333.10" stroke="#222" stroke-width="1"/>
<line x1="355.46" y1="330.50" x2="355.46" y2="333.10" stroke="#222" stroke-width="1"/>
<line x1="372.44" y1="330.50" x2="372.44" y2="333.10" stroke="#222" stroke-width="1"/>
<line x1="389.42" y1="330.50" x2="389.42" y2="333.10" stroke="#222" stroke-width="1"/>
<line x1="406.40" y1="330.50" x2="406.40" y2="333.10" stroke="#222" stroke-width="1"/>
<line x1="423.38" y1="330.50" x2="423.38" y2="333.10" stroke="#222" stroke-width="1"/>
<text x="321.50" y="342.60" font-size="7.5" fill="#222" text-anchor="middle" stroke="#222" stroke-width="0.12">0</text>
<text x="355.46" y="342.60" font-size="7.5" fill="#222" text-anchor="middle" stroke="#222" stroke-width="0.12">6</text>
<text x="389.42" y="342.60" font-size="7.5" fill="#222" text-anchor="middle" stroke="#222" stroke-width="0.12">12</text>
<text x="423.38" y="342.60" font-size="7.5" fill="#222" text-anchor="middle" stroke="#222" stroke-width="0.12">18</text>
<polyline points="321.50,265.20 340.00,265.20 340.00,281.52 351.20,281.52 351.20,297.85 366.80,297.85 366.80,314.18 386.20,314.18 386.20,330.50" fill="none" stroke="#1f5fa0" stroke-width="1.4"/>
<line x1="331.20" y1="265.20" x2="331.20" y2="262.80" stroke="#1f5fa0" stroke-width="1"/>
<polyline points="321.50,265.20 321.80,265.20 321.80,270.62 322.80,270.62 322.80,276.11 324.30,276.11 324.30,281.52 332.20,281.52 332.20,287.66 337.60,287.66 337.60,293.74 338.20,293.74 338.20,299.87 341.50,299.87 341.50,306.01 385.10,306.01 385.10,318.26 407.20,318.26 407.20,330.50" fill="none" stroke="#d01c3c" stroke-width="1.4"/>
<line x1="330.00" y1="281.52" x2="330.00" y2="279.12" stroke="#d01c3c" stroke-width="1"/>
<line x1="361.10" y1="306.01" x2="361.10" y2="303.61" stroke="#d01c3c" stroke-width="1"/>
<line x1="376.50" y1="306.01" x2="376.50" y2="303.61" stroke="#d01c3c" stroke-width="1"/>
<text x="0" y="0" font-size="8.2" fill="#222" stroke="#222" stroke-width="0.15" transform="translate(296.0,297.0) rotate(-90)" text-anchor="middle" textLength="28.5" lengthAdjust="spacingAndGlyphs">% survival</text>
<line x1="423.00" y1="269.60" x2="431.30" y2="269.60" stroke="#1f5fa0" stroke-width="1.6"/>
<line x1="427.15" y1="269.60" x2="427.15" y2="266.60" stroke="#1f5fa0" stroke-width="1.4"/>
<line x1="423.00" y1="280.20" x2="431.30" y2="280.20" stroke="#d01c3c" stroke-width="1.6"/>
<line x1="427.15" y1="280.20" x2="427.15" y2="277.20" stroke="#d01c3c" stroke-width="1.4"/>
<text x="434.80" y="270.90" font-size="6.4" fill="#111" font-weight="bold" textLength="15.2" lengthAdjust="spacingAndGlyphs" stroke="#111" stroke-width="0.15">BTKi</text>
<line x1="450.60" y1="269.20" x2="454.40" y2="269.20" stroke="#111" stroke-width="0.8"/>
<path d="M453.80,267.70 L456.00,269.20 L453.80,270.70 Z" fill="#111"/>
<text x="456.30" y="270.90" font-size="6.4" fill="#111" font-weight="bold" textLength="13.3" lengthAdjust="spacingAndGlyphs" stroke="#111" stroke-width="0.15">VEN</text>
<text x="434.50" y="281.40" font-size="6.4" fill="#111" font-weight="bold" textLength="12.8" lengthAdjust="spacingAndGlyphs" stroke="#111" stroke-width="0.15">VEN</text>
<line x1="447.70" y1="279.70" x2="453.50" y2="279.70" stroke="#111" stroke-width="0.8"/>
<path d="M452.90,278.20 L455.10,279.70 L452.90,281.20 Z" fill="#111"/>
<text x="455.50" y="281.40" font-size="6.4" fill="#111" font-weight="bold" textLength="14.5" lengthAdjust="spacingAndGlyphs" stroke="#111" stroke-width="0.15">BTKi</text>
<text x="435.4" y="308.2" font-size="6.2" fill="#222" textLength="23.4" lengthAdjust="spacingAndGlyphs"><tspan font-style="italic">p</tspan>=0.756</text>
<text x="373.00" y="354.90" font-size="9" fill="#222" text-anchor="middle" textLength="108.9" lengthAdjust="spacingAndGlyphs" stroke="#222" stroke-width="0.18">Time since progression on second-line</text>
<text x="372.70" y="366.00" font-size="9" fill="#222" text-anchor="middle" textLength="68.7" lengthAdjust="spacingAndGlyphs" stroke="#222" stroke-width="0.18">targeted agent (months)</text>
<text x="282.80" y="376.60" font-size="5.6" fill="#222" text-anchor="middle" textLength="14.9" lengthAdjust="spacingAndGlyphs">No. at</text>
<text x="284.20" y="384.60" font-size="5.6" fill="#222" text-anchor="middle" textLength="8.7" lengthAdjust="spacingAndGlyphs">risk</text>
<text x="295.40" y="376.60" font-size="6.2" fill="#1f5fa0" textLength="16.1" lengthAdjust="spacingAndGlyphs">B<tspan font-size="7.4" dy="0.3"> &gt; </tspan><tspan dy="-0.3">V</tspan></text>
<text x="295.40" y="384.80" font-size="6.2" fill="#d01c3c" textLength="16.1" lengthAdjust="spacingAndGlyphs">V<tspan font-size="7.4" dy="0.3"> &gt; </tspan><tspan dy="-0.3">B</tspan></text>
<text x="321.50" y="376.60" font-size="6.0" fill="#1f5fa0" text-anchor="middle">5</text>
<text x="338.48" y="376.60" font-size="6.0" fill="#1f5fa0" text-anchor="middle">4</text>
<text x="355.46" y="376.60" font-size="6.0" fill="#1f5fa0" text-anchor="middle">2</text>
<text x="372.44" y="376.60" font-size="6.0" fill="#1f5fa0" text-anchor="middle">1</text>
<text x="321.50" y="384.80" font-size="6.0" fill="#d01c3c" text-anchor="middle">12</text>
<text x="338.48" y="384.80" font-size="6.0" fill="#d01c3c" text-anchor="middle">5</text>
<text x="355.46" y="384.80" font-size="6.0" fill="#d01c3c" text-anchor="middle">4</text>
<text x="372.44" y="384.80" font-size="6.0" fill="#d01c3c" text-anchor="middle">3</text>
<text x="389.42" y="384.80" font-size="6.0" fill="#d01c3c" text-anchor="middle">1</text>
</svg>
</body></html>
